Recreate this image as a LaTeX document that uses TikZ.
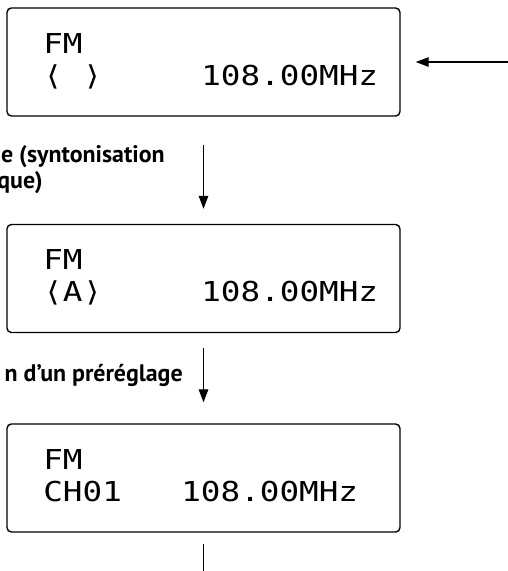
\documentclass[tikz,border=0pt]{standalone}
\usepackage{fontspec}
\usepackage{tikz}
\usetikzlibrary{arrows.meta, positioning}
\newfontfamily\lcdfont[FakeStretch=1.19]{DejaVu Sans Mono}
\newfontfamily\notefont{PT Sans}
\tikzset{
  lcd/.style={rectangle, draw, line width=0.8pt, rounded corners=2.5pt,
    minimum width=7.86cm, minimum height=2.16cm, inner sep=0pt},
  lcdtext/.style={anchor=base west, inner sep=0pt,
    font=\lcdfont\fontsize{15.6}{18}\selectfont},
  note/.style={anchor=base east, inner sep=0pt,
    font=\notefont\bfseries\fontsize{13.6}{16}\selectfont},
  ar/.style={-{Triangle[length=2.6mm, width=1.9mm]}, line width=0.75pt},
  ln/.style={line width=0.75pt},
}
\begin{document}
\begin{tikzpicture}
  \useasboundingbox (0,0) rectangle (10.16,-11.42);

  % --- Affichages ---
  \node[lcd] (disp1) at (4.07,-1.24) {};
  \node[lcd] (disp2) at (4.07,-5.57) {};
  \node[lcd] (disp3) at (4.07,-9.56) {};

  \node[lcdtext] (band1) at (0.86,-1.06) {FM};
  \node[lcdtext] (mem1)  at (0.86,-1.70) {⟨ ⟩};
  \node[lcdtext] (freq1) at (4.02,-1.70) {108.00MHz};
  \node[lcdtext] (band2) at (0.86,-5.39) {FM};
  \node[lcdtext] (mem2)  at (0.86,-6.03) {⟨A⟩};
  \node[lcdtext] (freq2) at (4.02,-6.03) {108.00MHz};
  \node[lcdtext] (band3) at (0.86,-9.38) {FM};
  \node[lcdtext] (mem3)  at (0.86,-10.02) {CH01};
  \node[lcdtext] (freq3) at (3.62,-10.02) {108.00MHz};

  % --- Textes ---
  \node[note] (scan1) at (3.30,-3.24) {e (syntonisation};
  \node[note] (scan2) at (0.86,-3.76) {que)};
  \node[note] (preset) at (3.66,-7.62) {n d’un préréglage};

  % --- Flèches ---
  \coordinate (in1) at (10.16,-1.24);
  \coordinate (out3) at (4.07,-11.42);
  \draw[ar, shorten >=0.3cm] (in1) -- (disp1);
  \draw[ar, shorten <=0.56cm, shorten >=0.3cm] (disp1) -- (disp2);
  \draw[ar, shorten <=0.3cm, shorten >=0.42cm] (disp2) -- (disp3);
  \draw[ln, shorten <=0.22cm] (disp3) -- (out3);

\end{tikzpicture}
\end{document}
